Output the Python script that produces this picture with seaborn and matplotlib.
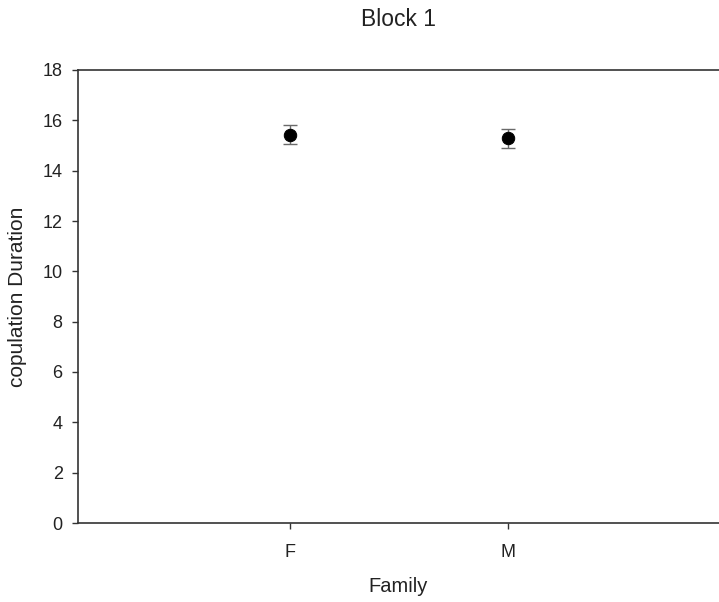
import matplotlib
matplotlib.use("Agg")
import matplotlib.pyplot as plt
import seaborn as sns
import pandas as pd

families = ["F", "M"]
means = [15.42, 15.28]
errs = [0.38, 0.36]
yticks = [0, 2, 4, 6, 8, 10, 12, 14, 16, 18]

sns.set_style("ticks")
plt.rcParams["font.family"] = ["Liberation Sans", "DejaVu Sans"]

fig = plt.figure(figsize=(7.19, 6.02), dpi=100)
ax = fig.add_axes([78/719, 79/602, 1 - 78/719, (523-70)/602])

df = pd.DataFrame({"Family": families, "Duration": means})
ax.errorbar(families, means, yerr=errs, fmt="none", ecolor="#6a6a6a",
            elinewidth=1, capsize=5, capthick=1, zorder=2)
sns.scatterplot(data=df, x="Family", y="Duration", ax=ax, color="black",
                s=80, edgecolor="black", zorder=3)

ax.set_xlim(-0.972, 1.968)
ax.set_ylim(0, 18)
ax.set_yticks(yticks)
ax.set_xlabel("Family", fontsize=14.5, color="#222222", va="center")
ax.xaxis.set_label_coords(0.5, (523-587)/453)
ax.set_ylabel("copulation Duration", fontsize=15, color="#222222", va="center")
ax.yaxis.set_label_coords((18-78)/641, 0.5)
ax.set_title("Block 1", fontsize=16.5, color="#222222", y=(523-20)/453, va="center", pad=0)
ax.tick_params(axis="both", labelsize=13, direction="out", length=4, width=1,
               color="#333333", labelcolor="#222222")
ax.tick_params(axis="x", pad=11)
ax.tick_params(axis="y", pad=7)
for s in ["left", "bottom", "top"]:
    ax.spines[s].set_visible(True)
    ax.spines[s].set_color("#333333")
    ax.spines[s].set_linewidth(1.2)
ax.spines["right"].set_visible(False)

fig.savefig("out.png", dpi=100)
